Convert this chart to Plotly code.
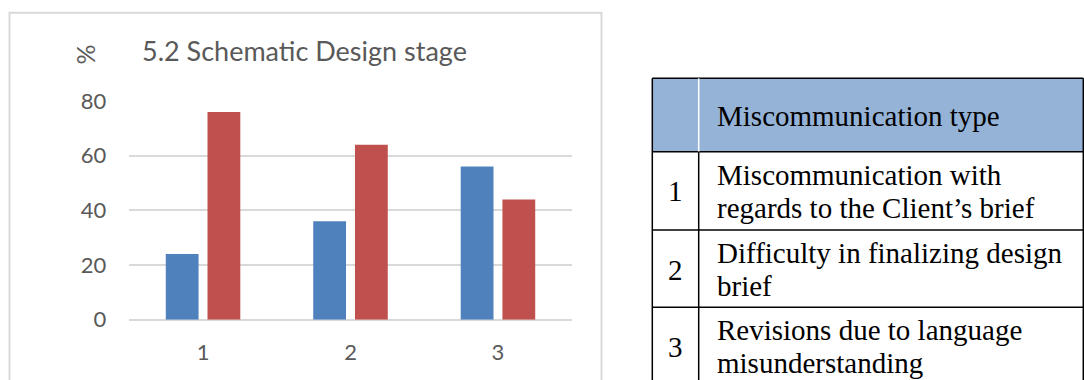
import plotly.graph_objects as go

W, H = 1084, 380

# Chart data
categories = ["1", "2", "3"]
series_blue = [24, 36, 56]
series_red = [76, 64, 44]
y_ticks = [0, 20, 40, 60, 80]

chart_title = "5.2 Schematic Design stage"
y_title = "%"

# Legend table contents
table_header = "Miscommunication type"
table_numbers = ["1", "2", "3"]
table_lines = [
    ["Miscommunication with", "regards to the Client\u2019s brief"],
    ["Difficulty in finalizing design", "brief"],
    ["Revisions due to language", "misunderstanding"],
]


def px_x(x):
    return x / W


def px_y(y):
    return 1 - y / H


BLUE = "#4f81bd"
RED = "#c0504d"
GRID = "#d9d9d9"
TEXT = "#595959"
FONT = "Lato, 'Open Sans', sans-serif"
SERIF = "'Liberation Serif', 'Times New Roman', serif"

fig = go.Figure()
fig.add_trace(go.Bar(x=categories, y=series_blue, marker=dict(color=BLUE, line=dict(width=0)), name="Series 1"))
fig.add_trace(go.Bar(x=categories, y=series_red, marker=dict(color=RED, line=dict(width=0)), name="Series 2"))

plot_left, plot_right = 129.3, 571.7
plot_top, plot_bottom = 101.0, 319.7

fig.update_layout(
    template="none",
    width=W,
    height=H,
    margin=dict(l=0, r=0, t=0, b=0, pad=0, autoexpand=False),
    paper_bgcolor="white",
    plot_bgcolor="white",
    showlegend=False,
    barmode="group",
    bargap=0.434,
    bargroupgap=0.214,
    font=dict(family=FONT, color=TEXT),
    xaxis=dict(
        domain=[px_x(plot_left), px_x(plot_right)],
        automargin=False,
        showgrid=False,
        showline=False,
        zeroline=False,
        ticks="",
        tickfont=dict(size=22, color=TEXT, family=FONT),
        ticklabelstandoff=17,
        fixedrange=True,
    ),
    yaxis=dict(
        domain=[px_y(plot_bottom), px_y(plot_top)],
        automargin=False,
        range=[0, 80],
        tickvals=y_ticks,
        showgrid=True,
        gridcolor=GRID,
        gridwidth=2,
        zeroline=True,
        zerolinecolor=GRID,
        zerolinewidth=2,
        showline=False,
        ticks="",
        tickfont=dict(size=22, color=TEXT, family=FONT),
        ticklabelstandoff=22,
        fixedrange=True,
    ),
)

shapes = []
annotations = []

# Chart frame
shapes.append(dict(type="rect", xref="paper", yref="paper",
                   x0=px_x(9.5), x1=px_x(601.5), y0=px_y(12.7), y1=px_y(400),
                   line=dict(color=GRID, width=2), fillcolor="rgba(0,0,0,0)", layer="below"))

# Chart title and axis title
annotations.append(dict(text=chart_title, xref="paper", yref="paper",
                        x=px_x(140), y=px_y(51), xanchor="left", yanchor="middle",
                        showarrow=False, font=dict(size=27, color=TEXT, family=FONT)))
annotations.append(dict(text=y_title, xref="paper", yref="paper",
                        x=px_x(84.5), y=px_y(55), xanchor="center", yanchor="middle",
                        textangle=-90, showarrow=False, font=dict(size=25, color=TEXT, family=FONT)))

# Table geometry
t_left, t_div, t_right = 652.3, 698.7, 1083.3
t_top = 78.3
row_edges = [151.7, 230.0, 307.3, 385.0]
line_col = "black"

shapes.append(dict(type="rect", xref="paper", yref="paper",
                   x0=px_x(t_left), x1=px_x(t_right), y0=px_y(t_top), y1=px_y(row_edges[0]),
                   fillcolor="#95b3d7", line=dict(width=0), layer="below"))
# outer horizontal and vertical lines
for y in [t_top] + row_edges[:-1]:
    shapes.append(dict(type="line", xref="paper", yref="paper",
                       x0=px_x(t_left), x1=px_x(t_right), y0=px_y(y), y1=px_y(y),
                       line=dict(color=line_col, width=1.5)))
for x in [t_left, t_right]:
    shapes.append(dict(type="line", xref="paper", yref="paper",
                       x0=px_x(x), x1=px_x(x), y0=px_y(t_top), y1=px_y(row_edges[-1]),
                       line=dict(color=line_col, width=1.5)))
# column divider: white within the header, black below
shapes.append(dict(type="line", xref="paper", yref="paper",
                   x0=px_x(t_div), x1=px_x(t_div), y0=px_y(t_top), y1=px_y(row_edges[0]),
                   line=dict(color="white", width=1.5)))
shapes.append(dict(type="line", xref="paper", yref="paper",
                   x0=px_x(t_div), x1=px_x(t_div), y0=px_y(row_edges[0]), y1=px_y(row_edges[-1]),
                   line=dict(color=line_col, width=1.5)))

text_x = 715
annotations.append(dict(text=table_header, xref="paper", yref="paper",
                        x=px_x(text_x), y=px_y(116), xanchor="left", yanchor="middle",
                        showarrow=False, font=dict(size=29, color="black", family=SERIF)))

line_pitch = 33
for i, (num, lines) in enumerate(zip(table_numbers, table_lines)):
    top = row_edges[i]
    first = top + 23
    annotations.append(dict(text=num, xref="paper", yref="paper",
                            x=px_x((t_left + t_div) / 2), y=px_y(first + line_pitch / 2),
                            xanchor="center", yanchor="middle",
                            showarrow=False, font=dict(size=29, color="black", family=SERIF)))
    for j, ln in enumerate(lines):
        annotations.append(dict(text=ln, xref="paper", yref="paper",
                                x=px_x(text_x), y=px_y(first + j * line_pitch),
                                xanchor="left", yanchor="middle",
                                showarrow=False, font=dict(size=29, color="black", family=SERIF)))

fig.update_layout(shapes=shapes, annotations=annotations)

fig.write_html("out.html")
